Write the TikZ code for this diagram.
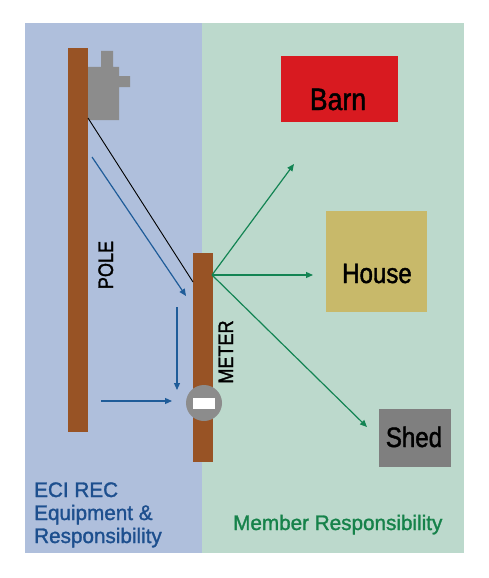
\documentclass[tikz,border=0pt]{standalone}
\usepackage{fontspec}
\setmainfont{Liberation Sans}[FakeBold=1.2]
\newfontfamily\narrowfont[FakeStretch=0.86,FakeBold=1.5]{Liberation Sans}
\newfontfamily\legendfont[FakeStretch=0.985,FakeBold=1.4]{Liberation Sans}
\usetikzlibrary{arrows.meta}

\definecolor{ecipanel}{HTML}{AFBFDC}
\definecolor{memberpanel}{HTML}{BCD9CC}
\definecolor{polebrown}{HTML}{985325}
\definecolor{metalgray}{HTML}{8C8C8C}
\definecolor{barnred}{HTML}{D81A20}
\definecolor{housetan}{HTML}{C8B96A}
\definecolor{shedgray}{HTML}{7F7F7F}
\definecolor{ecilink}{HTML}{1F5C99}
\definecolor{memberlink}{HTML}{138453}
\definecolor{ecitext}{HTML}{1D4F8E}
\definecolor{membertext}{HTML}{16824A}

\tikzset{
  post/.style={fill=polebrown, draw=none, inner sep=0pt},
  building/.style={draw=none, inner sep=0pt},
  bigname/.style={font=\narrowfont\fontsize{29}{31}\selectfont, inner sep=0pt, anchor=base},
  postname/.style={font=\narrowfont\fontsize{21}{23}\selectfont, inner sep=0pt, anchor=base, rotate=90},
  ecilead/.style={draw=ecilink, line width=1.2pt, -{Triangle[length=7pt,width=6pt]}},
  memberlead/.style={draw=memberlink, line width=1.2pt, -{Triangle[length=7pt,width=6pt]}},
}

\begin{document}
\begin{tikzpicture}[x=1pt,y=-1pt]
  \useasboundingbox (0,0) rectangle (488,578);

  % Paneles de fondo
  \fill[ecipanel] (25,23) rectangle (202,553);
  \fill[memberpanel] (202,23) rectangle (464,553);

  % Poste y transformador
  \node[post, minimum width=20pt, minimum height=384pt] (pole) at (78,240) {};
  \fill[metalgray] (88,67) -- (101,67) -- (101,51) -- (113,51) -- (113,67) -- (119,67)
    -- (119,76) -- (130,76) -- (130,87) -- (119,87) -- (119,120) -- (88,120) -- cycle;
  \node[postname] (polename) at (113,265) {POLE};

  % Poste del medidor
  \node[post, minimum width=20pt, minimum height=209pt] (meterpost) at (203,357.5) {};
  \node[circle, fill=metalgray, minimum size=36pt, inner sep=0pt] (meter) at (204,403) {};
  \node[fill=white, minimum width=22pt, minimum height=11pt, inner sep=0pt] (dial) at (meter.center) {};
  \node[postname] (metername) at (233,352) {METER};

  % Acometida
  \coordinate (tap) at (88,118);
  \coordinate (drop) at (193,282);
  \draw[black, line width=0.9pt] (tap) -- (drop);

  % Flechas del lado de la cooperativa
  \coordinate (a1) at (92,157);
  \coordinate (b1) at (186,296);
  \coordinate (a2) at (177,307);
  \coordinate (b2) at (177,390);
  \coordinate (a3) at (101,401);
  \coordinate (b3) at (172,401);
  \draw[ecilead] (a1) -- (b1);
  \draw[ecilead] (a2) -- (b2);
  \draw[ecilead] (a3) -- (b3);

  % Edificios
  \node[building, fill=barnred, minimum width=117pt, minimum height=66pt] (barn) at (339.5,89) {};
  \node[bigname, font=\narrowfont\fontsize{31}{33}\selectfont] at (338,110) {Barn};
  \node[building, fill=housetan, minimum width=101pt, minimum height=101pt] (house) at (376.5,261.5) {};
  \node[bigname, font=\narrowfont\fontsize{28}{30}\selectfont] at (377,283) {House};
  \node[building, fill=shedgray, minimum width=72pt, minimum height=58pt] (shed) at (415,438) {};
  \node[bigname, font=\narrowfont\fontsize{28}{30}\selectfont] at (414,447) {Shed};

  % Flechas del lado del socio
  \coordinate (feed) at (212,275);
  \coordinate (tobarn) at (294,164);
  \coordinate (tohouse) at (313,275);
  \coordinate (toshed) at (367,427);
  \draw[memberlead] (feed) -- (tobarn);
  \draw[memberlead] (feed) -- (tohouse);
  \draw[memberlead] (feed) -- (toshed);

  % Leyendas
  \node[anchor=base west, align=left, inner sep=0pt, text=ecitext,
    font=\legendfont\fontsize{21}{23}\selectfont] (ecilabel) at (34,543)
    {ECI REC\\Equipment \&\\Responsibility};
  \node[anchor=base west, inner sep=0pt, text=membertext,
    font=\legendfont\fontsize{21}{23}\selectfont] (memberlabel) at (233,530) {Member Responsibility};
\end{tikzpicture}
\end{document}
